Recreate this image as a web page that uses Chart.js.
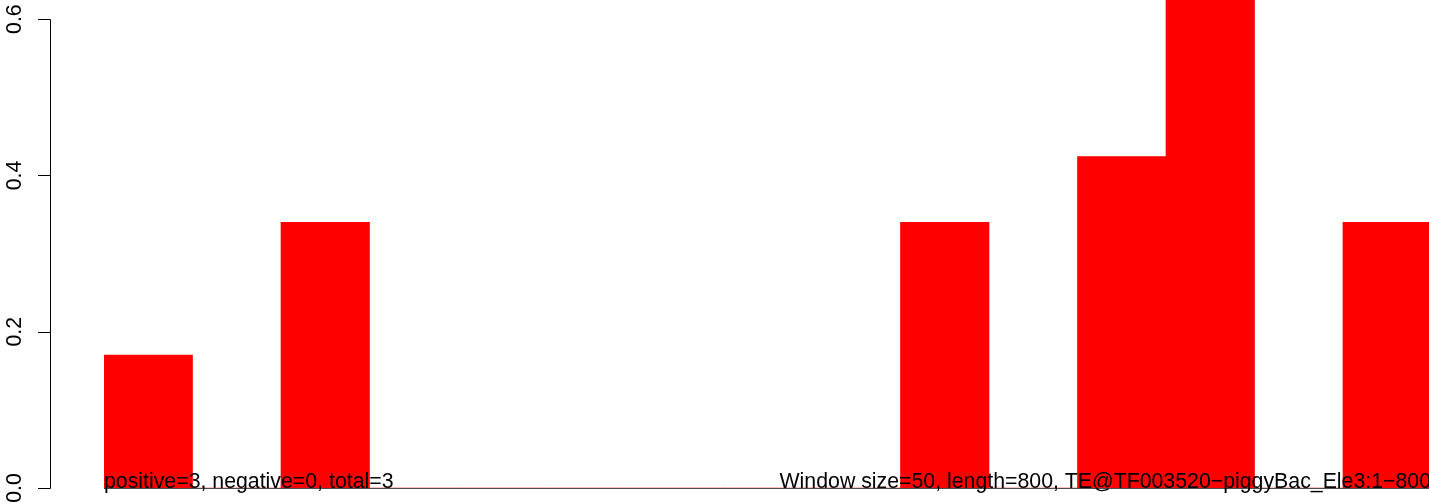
<!DOCTYPE html>
<html>
<head>
<meta charset="utf-8">
<script src="https://cdn.jsdelivr.net/npm/chart.js@4/dist/chart.umd.min.js"></script>
<style>
  html, body { margin: 0; padding: 0; background: #fff; overflow: hidden; width: 1429px; height: 504px; }
  #canvas-densidade { display: block; }
</style>
</head>
<body>
<!-- a area de plotagem do R continua alem da borda direita da imagem -->
<canvas id="canvas-densidade" width="1520" height="504"></canvas>
<script>
const windows = ['1-50', '51-100', '101-150', '151-200', '201-250', '251-300', '301-350', '351-400',
  '401-450', '451-500', '501-550', '551-600', '601-650', '651-700', '701-750', '751-800'];
const density = [0.17, 0, 0.34, 0, 0, 0, 0, 0, 0, 0.34, 0, 0.424, 0.68, 0, 0.34, 0];
const yTicks = [0, 0.2, 0.4, 0.6];
const yTickLabels = ['0.0', '0.2', '0.4', '0.6'];
const leftNote = 'positive=3, negative=0, total=3';
const rightNote = 'Window size=50, length=800, TE@TF003520\u2212piggyBac_Ele3:1\u2212800';

const fonte = '21.3px "Liberation Sans", Arial, sans-serif';

// eixo y estilo R, afastado da area do grafico
const desenhoR = {
  id: 'desenhoR',
  afterDatasetsDraw(chart) {
    const ctx = chart.ctx;
    const y = chart.scales.y;
    const area = chart.chartArea;
    const eixoX = 50;

    ctx.save();
    ctx.strokeStyle = '#000';
    ctx.lineWidth = 1;
    ctx.beginPath();
    ctx.moveTo(eixoX + 0.5, Math.round(y.getPixelForValue(yTicks[0])) + 0.5);
    ctx.lineTo(eixoX + 0.5, Math.round(y.getPixelForValue(yTicks[yTicks.length - 1])) + 0.5);
    yTicks.forEach(v => {
      const py = Math.round(y.getPixelForValue(v)) + 0.5;
      ctx.moveTo(eixoX - 12, py);
      ctx.lineTo(eixoX + 0.5, py);
    });
    ctx.stroke();

    ctx.fillStyle = '#000';
    ctx.font = fonte;
    ctx.textAlign = 'center';
    ctx.textBaseline = 'alphabetic';
    yTicks.forEach((v, i) => {
      ctx.save();
      ctx.translate(21, y.getPixelForValue(v));
      ctx.rotate(-Math.PI / 2);
      ctx.fillText(yTickLabels[i], 0, 0);
      ctx.restore();
    });

    // linha de base
    ctx.strokeStyle = '#4d4d4d';
    ctx.beginPath();
    const base = Math.round(y.getPixelForValue(0)) + 0.5;
    ctx.moveTo(area.left, base);
    ctx.lineTo(area.right, base);
    ctx.stroke();

    ctx.fillStyle = '#000';
    ctx.textAlign = 'left';
    ctx.fillText(leftNote, area.left, base - 0.5);
    ctx.textAlign = 'right';
    ctx.fillText(rightNote, 1431, base - 0.5);
    ctx.restore();
  }
};

const ctx = document.getElementById('canvas-densidade').getContext('2d');

new Chart(ctx, {
  type: 'bar',
  data: {
    labels: windows,
    datasets: [{
      data: density,
      backgroundColor: '#ff0000',
      borderWidth: 0,
      categoryPercentage: 1,
      barPercentage: 1
    }]
  },
  options: {
    responsive: false,
    animation: false,
    layout: { padding: { left: 104, right: 0, top: 0, bottom: 16 } },
    scales: {
      x: { display: false },
      y: {
        display: false,
        min: 0,
        max: 0.6245
      }
    },
    plugins: {
      legend: { display: false },
      tooltip: { enabled: false }
    }
  },
  plugins: [desenhoR]
});
</script>
</body>
</html>
